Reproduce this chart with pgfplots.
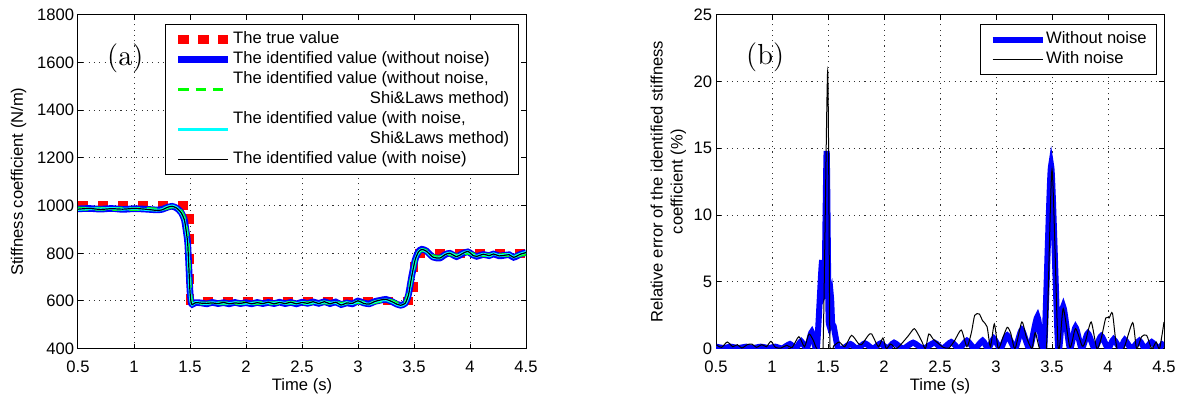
\documentclass[border=0pt]{standalone}
\usepackage{fontspec}
\setsansfont{Liberation Sans}
\usepackage{pgfplots}
\pgfplotsset{compat=1.18}
\usepackage{pgfplotstable}

\definecolor{mred}{rgb}{1,0,0}
\definecolor{mblue}{rgb}{0,0,1}
\definecolor{mgreen}{rgb}{0,1,0}
\definecolor{mcyan}{rgb}{0,1,1}

\pgfplotstableread{
t     blue  green cyan  black
0.50  986   988   984   985
0.60  988   986   987   988
0.70  985   987   986   984
0.80  988   985   988   987
0.90  984   987   985   985
1.00  987   985   987   988
1.10  985   987   984   985
1.20  982   984   981   980
1.25  984   985   983   982
1.30  993   991   994   993
1.34  997   996   998   997
1.38  990   992   991   990
1.42  972   975   970   971
1.45  940   945   938   940
1.47  880   890   878   880
1.48  840   850   835   838
1.49  740   760   735   738
1.50  640   660   636   638
1.51  595   605   593   594
1.52  586   590   585   585
1.55  593   592   594   593
1.60  592   590   591   591
1.65  588   590   589   590
1.70  594   592   593   592
1.75  589   591   590   589
1.80  593   590   592   594
1.85  588   591   589   588
1.90  594   592   593   592
1.95  589   590   590   590
2.00  593   592   591   594
2.05  588   590   589   588
2.10  594   591   593   593
2.15  589   592   590   589
2.20  594   590   593   595
2.25  589   591   590   588
2.30  595   592   594   594
2.35  589   590   590   589
2.40  594   593   593   595
2.45  588   590   589   588
2.50  595   592   594   594
2.55  590   591   589   590
2.60  596   593   595   597
2.65  590   592   590   589
2.70  597   594   596   597
2.75  589   591   590   588
2.80  596   593   594   595
2.85  585   589   584   583
2.90  592   591   593   592
2.95  588   590   589   590
3.00  600   596   599   601
3.05  592   593   591   590
3.10  588   590   587   587
3.15  598   595   597   598
3.20  603   600   602   604
3.25  607   603   605   607
3.30  598   600   597   598
3.35  586   590   585   586
3.38  582   586   581   582
3.42  590   592   589   590
3.45  625   628   622   624
3.48  705   700   702   704
3.51  772   768   770   772
3.54  807   803   805   806
3.57  817   814   815   816
3.61  810   810   808   809
3.67  784   788   783   784
3.73  780   783   781   780
3.78  795   793   796   795
3.82  800   797   801   800
3.88  786   790   787   786
3.93  798   796   799   798
3.98  806   802   807   808
4.03  792   795   791   790
4.06  787   790   788   787
4.12  795   793   796   796
4.17  790   792   789   790
4.21  797   794   798   797
4.26  789   792   790   789
4.30  791   793   792   791
4.35  794   792   795   794
4.39  783   788   784   783
4.45  796   793   797   796
4.50  803   798   804   803
}\leftdata

\pgfplotstableread{
t     v
0.50  0.15
0.57  0.05
0.63  0.15
0.70  0.05
0.77  0.15
0.83  0.05
0.90  0.15
0.97  0.05
1.03  0.15
1.09  0.02
1.16  0.35
1.21  0.02
1.26  0.55
1.31  0.02
1.355 1.25
1.40  0.0
1.445 6.4
1.468 4.3
1.488 14.8
1.505 2.4
1.515 2.4
1.527 3.8
1.537 1.9
1.55  1.7
1.59  0.0
1.64  0.05
1.70  0.35
1.76  0.0
1.83  0.4
1.90  0.0
1.97  0.4
2.03  0.0
2.09  0.45
2.17  0.0
2.26  0.45
2.35  0.0
2.45  0.45
2.52  0.0
2.60  0.5
2.67  0.0
2.74  0.6
2.81  0.0
2.88  0.6
2.93  0.0
2.98  0.75
3.04  0.0
3.10  1.0
3.17  0.0
3.23  1.4
3.30  0.0
3.37  2.4
3.43  0.0
3.492 13.7
3.555 0.0
3.60  3.15
3.66  0.0
3.71  1.6
3.765 0.0
3.82  1.15
3.88  0.0
3.94  0.95
4.00  0.0
4.05  0.7
4.11  0.0
4.15  0.65
4.21  0.0
4.28  0.6
4.33  0.0
4.39  0.5
4.45  0.0
4.50  0.5
}\rightblue

\pgfplotstableread{
t     v
0.50  0.3
0.55  0.1
0.60  0.5
0.65  0.15
0.69  0.3
0.73  0.05
0.78  0.3
0.82  0.35
0.86  0.1
0.91  0.3
0.95  0.15
0.99  0.55
1.03  0.1
1.08  0.05
1.13  0.25
1.18  0.1
1.24  0.9
1.29  0.15
1.33  1.1
1.37  0.6
1.40  0.0
1.455 0.0
1.497 20.8
1.518 0.0
1.55  0.2
1.60  0.5
1.65  0.15
1.71  1.0
1.77  0.4
1.80  0.3
1.86  1.0
1.89  1.1
1.95  0.15
1.99  0.8
2.02  0.0
2.06  0.35
2.11  0.0
2.17  0.5
2.22  1.0
2.27  1.5
2.31  1.0
2.34  0.5
2.37  0.0
2.40  1.1
2.44  0.7
2.47  0.5
2.53  0.1
2.58  0.05
2.63  0.6
2.69  1.4
2.74  0.15
2.78  1.2
2.81  2.5
2.85  2.6
2.88  2.1
2.92  1.65
2.95  0.15
2.985 1.85
3.02  0.0
3.06  0.8
3.10  1.6
3.13  1.2
3.17  0.0
3.23  2.0
3.27  0.9
3.32  0.0
3.35  1.2
3.39  0.0
3.45  0.0
3.50  13.4
3.555 0.0
3.60  3.0
3.66  0.1
3.71  1.5
3.77  0.2
3.80  0.6
3.85  2.0
3.90  0.0
3.94  0.8
3.98  2.3
4.01  2.3
4.04  2.65
4.08  0.0
4.14  0.0
4.22  1.95
4.255 0.0
4.30  0.9
4.345 1.0
4.39  0.0
4.43  0.5
4.46  0.0
4.50  2.0
}\rightblack

\pgfplotsset{
 mystyle/.style={
  scale only axis, width=224pt, height=166.95pt,
  xmin=0.5, xmax=4.5, xtick={0.5,1,...,4.5},
  tick align=inside, major tick length=2.5pt,
  grid=major,
  major grid style={black!80, line width=0.5pt, dash pattern=on 0.55pt off 2.1pt},
  axis line style={line width=0.5pt},
  every tick/.style={black, line width=0.5pt},
  /pgf/number format/assume math mode=true,
  /pgf/number format/1000 sep={},
  scaled ticks=false,
  xticklabel style={yshift=-3.3pt},
  yticklabel style={xshift=1pt},
  xlabel={Time (s)},
  xlabel style={at={(axis description cs:0.5,-0.113)}, anchor=center},
  legend cell align=left,
  legend style={at={(rel axis cs:1,1)}, anchor=north east, xshift=-3.7pt, yshift=-4.8pt,
     draw=black, line width=0.5pt, inner xsep=4.2pt, inner ysep=2.4pt, row sep=0pt,
     column sep=0pt,
     nodes={inner xsep=0.2pt, inner ysep=0pt, text depth=, text height=},
     cells={align=left, text depth=, text height=}},
  legend image code/.code={\draw[#1] (0pt,0pt) -- (25pt,0pt);},
 }
}

\begin{document}
\sffamily\fontsize{8.3}{10}\selectfont
\begin{tikzpicture}
\useasboundingbox (-39pt,-25.15pt) rectangle (551.5pt,174.35pt);
\begin{axis}[mystyle, at={(0pt,0pt)}, anchor=south west,
  ymin=400, ymax=1800, ytick={400,600,...,1800},
  ylabel={Stiffness coefficient (N/m)},
  ylabel style={at={(axis description cs:-0.1326,0.5)}, anchor=center},
]
\addplot[mred, line width=4.3pt, dash pattern=on 5.2pt off 4.8pt] coordinates {(0.5,1000) (1.5,1000) (1.5,600) (3.5,600) (3.5,800) (4.5,800)};
\addlegendentry{\strut The true value}
\addplot[mblue, line width=3.3pt, smooth, tension=0.4] table[x=t, y=blue] {\leftdata};
\addlegendentry{\strut The identified value (without noise)}
\addplot[mgreen, line width=1.8pt, dash pattern=on 5.2pt off 3.4pt, smooth, tension=0.4] table[x=t, y=green] {\leftdata};
\addlegendentry{\strut The identified value (without noise,\\\hspace*{68.4pt}\strut Shi\&Laws method)}
\addplot[mcyan, line width=1.4pt, smooth, tension=0.4] table[x=t, y=cyan] {\leftdata};
\addlegendentry{\strut The identified value (with noise,\\\hspace*{68.4pt}\strut Shi\&Laws method)}
\addplot[black, line width=0.6pt, smooth, tension=0.4] table[x=t, y=black] {\leftdata};
\addlegendentry{\strut The identified value (with noise)}
\node[font=\rmfamily\fontsize{14.5}{16}\selectfont] at (axis cs:0.923,1617) {(a)};
\end{axis}

\begin{axis}[mystyle, at={(319pt,0pt)}, anchor=south west,
  ymin=0, ymax=25, ytick={0,5,...,25},
  ylabel={Relative error of the identified stiffness\\coefficient (\%)},
  ylabel style={at={(axis description cs:-0.1067,0.5)}, anchor=center, align=center},
  legend style={inner xsep=4.5pt},
]
\addplot[mblue, line width=3pt, smooth, tension=0.35] table[x=t, y=v] {\rightblue};
\addlegendentry{\strut Without noise}
\addplot[black, line width=0.5pt, smooth, tension=0.4] table[x=t, y=v] {\rightblack};
\addlegendentry{\strut With noise}
\node[font=\rmfamily\fontsize{14.5}{16}\selectfont] at (axis cs:0.939,21.8) {(b)};
\end{axis}
\end{tikzpicture}
\end{document}
